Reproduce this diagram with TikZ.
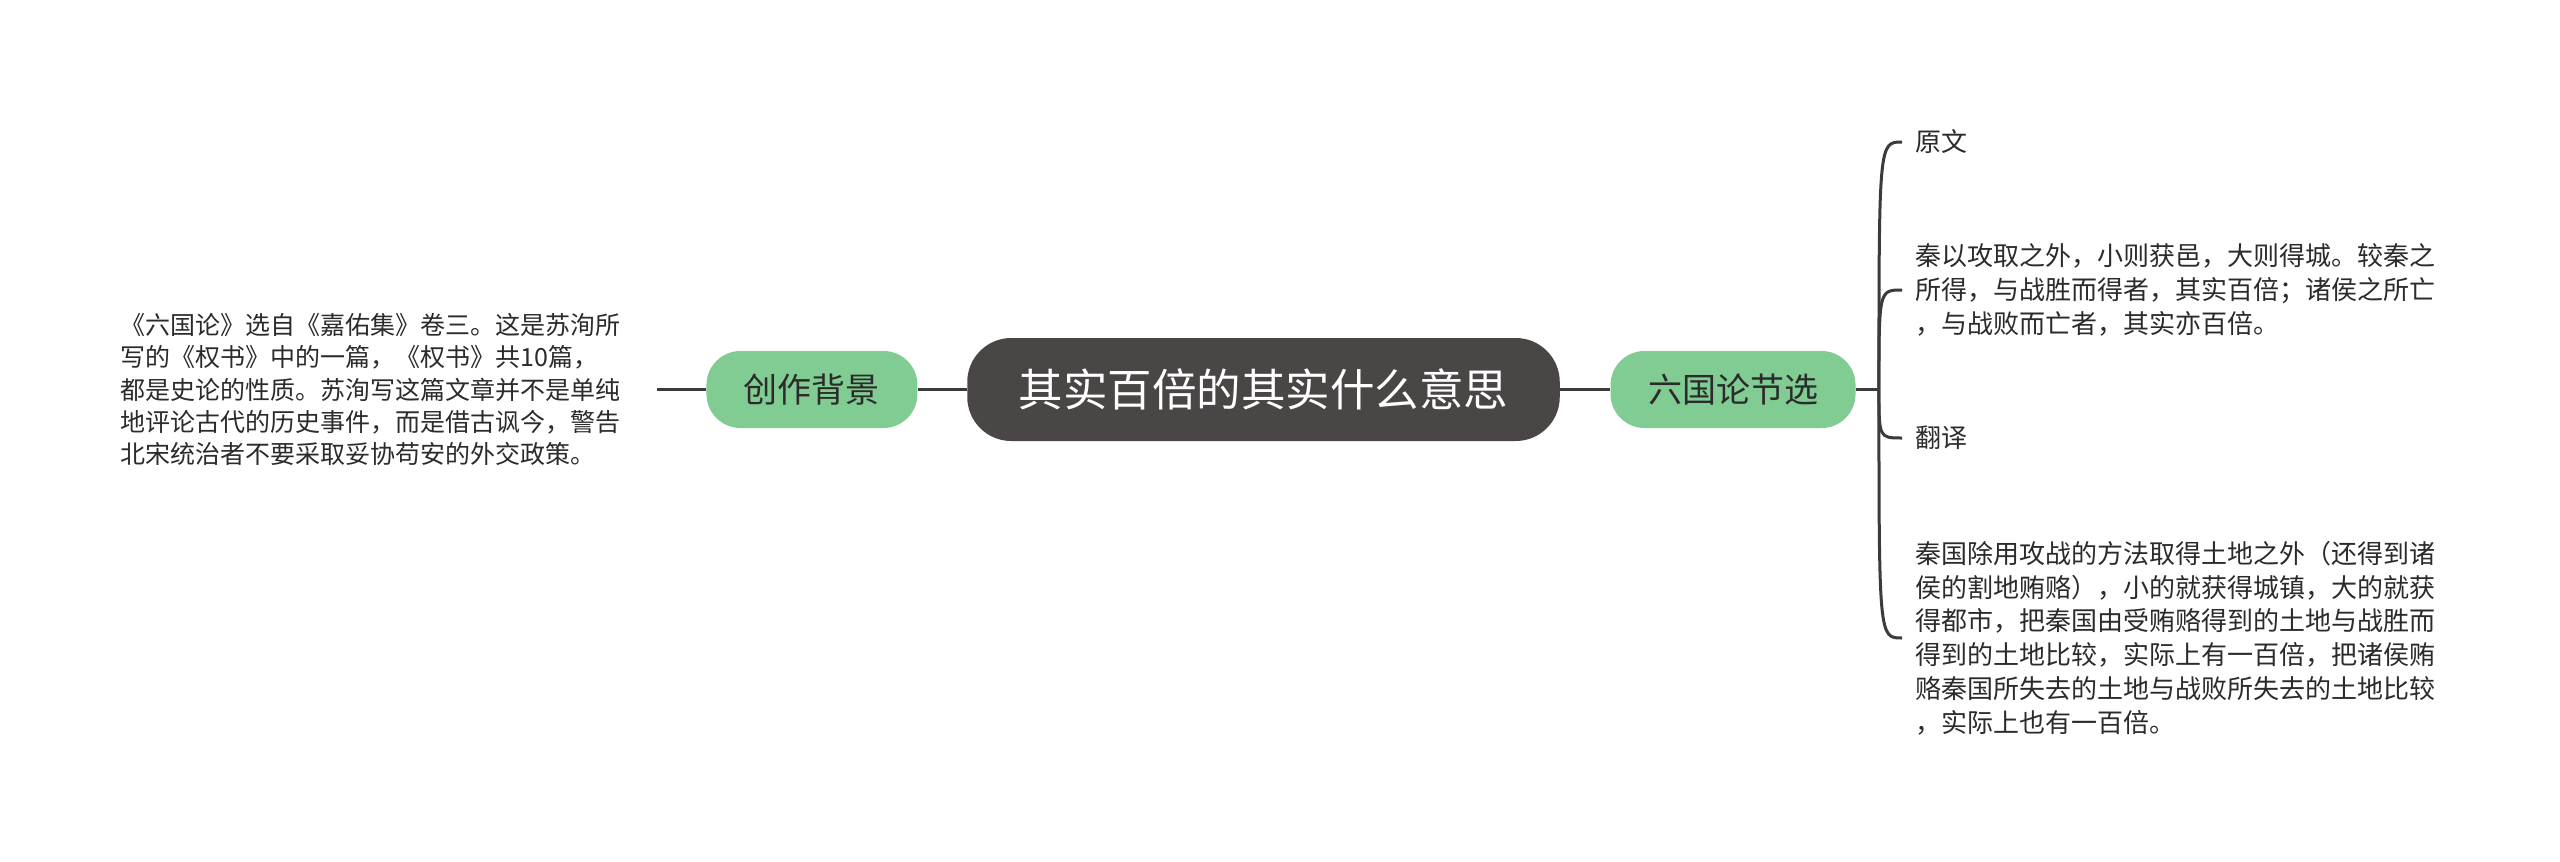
\documentclass[tikz,border=0pt]{standalone}
\usepackage{fontspec}
\setmainfont{Noto Sans CJK SC}
\usetikzlibrary{positioning}
\definecolor{topicbg}{HTML}{4B4646}
\definecolor{branchbg}{HTML}{80CC92}
\definecolor{linkgray}{HTML}{3D3A3A}
\definecolor{leaftext}{HTML}{2B2B2B}

\begin{document}
\begin{tikzpicture}[
    x=0.5pt, y=-0.5pt,
    topic/.style={fill=topicbg, text=white, rounded corners=22pt, inner xsep=25.75pt,
                  minimum height=51.5pt, font=\fontsize{22.25}{26}\selectfont},
    branch/.style={fill=branchbg, text=leaftext, rounded corners=17pt, inner xsep=18.75pt,
                   minimum height=38.5pt, font=\fontsize{17}{20}\selectfont},
    leaf/.style={text=leaftext, align=left, anchor=west, inner xsep=6.5pt,
                 font=\fontsize{13}{16.9}\selectfont},
    note/.style={text=leaftext, align=left, inner xsep=18pt,
                 font=\fontsize{12.5}{16.2}\selectfont},
    link/.style={draw=linkgray, line width=1.5pt}
]
\path[fill=white] (0,0) rectangle (2560,862);

\node[topic] (main) at (1263.5,389.5) {其实百倍的其实什么意思};
\node[branch, left=24.5pt of main] (bj) {创作背景};
\node[branch, right=25pt of main] (xuan) {六国论节选};
\node[note, left=24.5pt of bj] (bjtext)
    {《六国论》选自《嘉佑集》卷三。这是苏洵所\\
     写的《权书》中的一篇，《权书》共10篇，\\
     都是史论的性质。苏洵写这篇文章并不是单纯\\
     地评论古代的历史事件，而是借古讽今，警告\\
     北宋统治者不要采取妥协苟安的外交政策。};
\coordinate[right=11.5pt of xuan] (jn);

\node[leaf] (yw) at (1902,142) {原文};
\node[leaf] (ywtext) at (1902,290)
    {秦以攻取之外，小则获邑，大则得城。较秦之\\
     所得，与战胜而得者，其实百倍；诸侯之所亡\\
     ，与战败而亡者，其实亦百倍。};
\node[leaf] (fy) at (1902,438) {翻译};
\node[leaf] (fytext) at (1902,638)
    {秦国除用攻战的方法取得土地之外（还得到诸\\
     侯的割地贿赂），小的就获得城镇，大的就获\\
     得都市，把秦国由受贿赂得到的土地与战胜而\\
     得到的土地比较，实际上有一百倍，把诸侯贿\\
     赂秦国所失去的土地与战败所失去的土地比较\\
     ，实际上也有一百倍。};

\draw[link] (bjtext) -- (bj);
\draw[link] (bj) -- (main);
\draw[link] (main) -- (xuan);
\draw[link] (xuan) -- (jn);
\foreach \c in {yw,ywtext,fy,fytext}
    \draw[link] (jn) .. controls (jn |- \c.west) .. (\c.west);
\end{tikzpicture}
\end{document}
